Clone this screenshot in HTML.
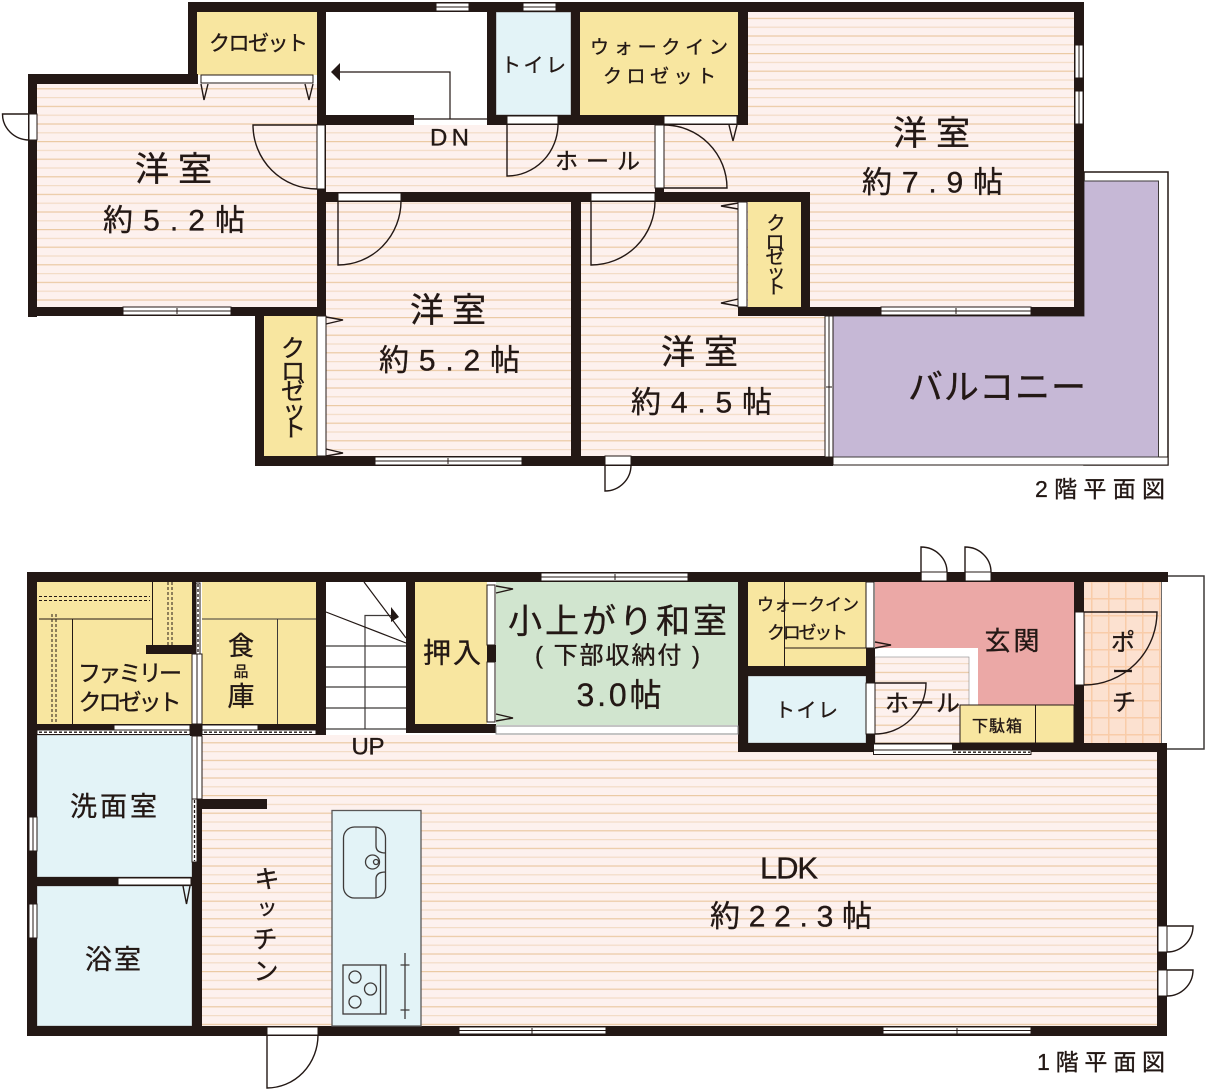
<!DOCTYPE html>
<html lang="ja"><head><meta charset="utf-8"><title>平面図</title>
<style>
html,body{margin:0;padding:0;background:#fff;width:1206px;height:1089px;overflow:hidden}
svg{display:block}
text{font-family:"Liberation Sans","Noto Sans CJK JP",sans-serif;fill:#231815;stroke:#231815;stroke-width:.35;text-anchor:middle;dominant-baseline:central}
</style></head><body>
<svg width="1206" height="1089" viewBox="0 0 1206 1089" xmlns="http://www.w3.org/2000/svg">
<defs>
<pattern id="f2" width="20" height="17.6" patternUnits="userSpaceOnUse" y="0.2">
<rect width="20" height="17.6" fill="#fdf1ee"/><rect y="0" width="20" height="1.2" fill="#ebc9a3"/><rect y="8.8" width="20" height="1.2" fill="#f3dcc6"/>
</pattern>
<pattern id="f1" width="20" height="17.6" patternUnits="userSpaceOnUse" y="3">
<rect width="20" height="17.6" fill="#fdf1ee"/><rect y="0" width="20" height="1.2" fill="#ebc9a3"/><rect y="8.8" width="20" height="1.2" fill="#f3dcc6"/>
</pattern>
<pattern id="tile" width="17" height="17" patternUnits="userSpaceOnUse" x="1091" y="581">
<rect width="17" height="17" fill="#fce1d0"/><rect width="1.5" height="17" fill="#f9cca9"/><rect width="17" height="1.5" fill="#f9cca9"/>
</pattern>
</defs>

<!-- ================ 2F ================ -->
<!-- balcony -->
<rect x="1084" y="172" width="84" height="293" fill="#fff" stroke="#231815" stroke-width="1.5"/>
<rect x="833" y="457" width="335" height="8" fill="#fff" stroke="#231815" stroke-width="1"/>
<path d="M1084 181H1158.5V457H833V316H1084Z" fill="#c6b8d6" stroke="#3e3a39" stroke-width="1"/>

<!-- floors -->
<rect x="37" y="84" width="280" height="223" fill="url(#f2)"/>
<rect x="326" y="125" width="340" height="67" fill="url(#f2)"/>
<rect x="326" y="202" width="246" height="254" fill="url(#f2)"/>
<rect x="581" y="202" width="244" height="254" fill="url(#f2)"/>
<path d="M664 125H748V12H1074V307H810V192H664Z" fill="url(#f2)"/>
<rect x="326" y="12" width="161" height="103" fill="#fff"/>
<!-- small rooms -->
<rect x="197" y="12" width="120" height="63" fill="#f8e6a0"/>
<rect x="496" y="12" width="75" height="103" fill="#e3f3f7" stroke="#898989" stroke-width=".8"/>
<rect x="580" y="12" width="158" height="103" fill="#f8e6a0"/>
<rect x="748" y="202" width="53" height="105" fill="#f8e6a0"/>
<rect x="264" y="316" width="53" height="140" fill="#f8e6a0"/>

<!-- walls 2F -->
<g fill="#231815">
<rect x="188" y="2" width="896" height="10"/>
<rect x="188" y="2" width="9" height="82"/>
<rect x="28" y="74" width="170" height="10"/>
<rect x="28" y="74" width="9" height="243"/>
<rect x="28" y="307" width="298" height="9"/>
<rect x="317" y="12" width="9" height="304"/>
<rect x="326" y="115" width="88" height="10"/>
<rect x="487" y="12" width="9" height="113"/>
<rect x="571" y="12" width="9" height="113"/>
<rect x="496" y="115" width="252" height="10"/>
<rect x="738" y="12" width="10" height="113"/>
<rect x="655" y="125" width="9" height="77"/>
<rect x="326" y="192" width="484" height="10"/>
<rect x="801" y="192" width="9" height="124"/>
<rect x="738" y="307" width="346" height="9"/>
<rect x="1074" y="2" width="10" height="314"/>
<rect x="255" y="316" width="9" height="150"/>
<rect x="317" y="307" width="9" height="159"/>
<rect x="255" y="456" width="578" height="10"/>
<rect x="571" y="192" width="10" height="274"/>
</g>

<!-- openings 2F -->
<g fill="#fff" stroke="#231815" stroke-width="1">
<!-- top windows -->
<rect x="436" y="3" width="33" height="8"/><line x1="436" y1="7" x2="469" y2="7"/>
<rect x="523" y="3" width="33" height="8"/><line x1="523" y1="7" x2="556" y2="7"/>
<!-- right windows -->
<rect x="1075" y="45" width="8" height="33"/><line x1="1079" y1="45" x2="1079" y2="78"/>
<rect x="1075" y="91" width="8" height="33"/><line x1="1079" y1="91" x2="1079" y2="124"/>
<!-- closet door -->
<rect x="201" y="75" width="112" height="8"/>
<!-- left door -->
<rect x="29" y="114" width="8" height="26"/>
<!-- bottom windows -->
<rect x="123" y="307" width="108" height="8"/><line x1="123" y1="311" x2="231" y2="311"/><line x1="177" y1="308" x2="177" y2="314"/>
<rect x="881" y="307" width="150" height="8"/><line x1="881" y1="311" x2="1031" y2="311"/><line x1="956" y1="308" x2="956" y2="314"/>
<rect x="375" y="457" width="147" height="8"/><line x1="375" y1="461" x2="522" y2="461"/><line x1="448" y1="458" x2="448" y2="464"/>
<!-- doors panels -->
<rect x="317" y="125" width="8" height="64"/>
<rect x="338" y="193" width="63" height="8"/>
<rect x="591" y="193" width="64" height="8"/>
<rect x="507" y="116" width="51" height="8"/>
<rect x="664" y="116" width="73" height="8"/>
<rect x="655" y="125" width="9" height="63"/>
<rect x="738" y="202" width="9" height="105"/>
<rect x="317" y="316" width="9" height="140"/>
<rect x="605" y="456" width="26" height="9"/>
<rect x="825" y="316" width="8" height="141"/><line x1="829" y1="316" x2="829" y2="457"/><line x1="826" y1="387" x2="832" y2="387"/>
</g>

<g fill="none" stroke="#231815" stroke-width="1.4">
<path d="M29 114H2.5A27 26 0 0 0 29 140"/>
<path d="M317 125H253A64 64 0 0 0 317 189"/>
<path d="M338 201V265A63 64 0 0 0 401 201"/>
<path d="M591 201V265A64 64 0 0 0 655 201"/>
<path d="M507 124V176A51 52 0 0 0 558 124"/>
<path d="M664 125A63 63 0 0 1 727 188H664"/>
<path d="M605 465V491A26 26 0 0 0 631 465"/>
<!-- triangles -->
<path d="M201 84L204 100L208 84M305 84L309 100L313 84"/>
<path d="M729 125L733 141L737 125"/>
<path d="M738 203L721 206L738 209M738 299L721 303L738 306"/>
<path d="M326 317L343 320L326 324M326 449L343 453L326 456"/>
<!-- stair arrow -->
<path d="M414 119H487M450 119V72H340" stroke-width="1.2"/>
</g>
<path d="M331 72L340 63V81Z" fill="#231815"/>

<!-- labels 2F -->
<g>
<text x="173.500" y="170" font-size="34" textLength="77">洋室</text>
<text x="174" y="221" font-size="30" textLength="142">約5.2帖</text>
<text x="258.500" y="44" font-size="21" textLength="99">クロゼット</text>
<text x="533.500" y="66" font-size="20" textLength="65">トイレ</text>
<text x="659" y="48" font-size="19" textLength="138">ウォークイン</text>
<text x="659.500" y="77" font-size="19" textLength="113">クロゼット</text>
<text x="449.500" y="138" font-size="24" textLength="39">DN</text>
<text x="597.500" y="161" font-size="23" textLength="85">ホール</text>
<text x="931.500" y="134" font-size="34" textLength="77">洋室</text>
<text x="932.500" y="183" font-size="30" textLength="141">約7.9帖</text>
<text x="448" y="311" font-size="34" textLength="76">洋室</text>
<text x="449.500" y="361" font-size="30" textLength="141">約5.2帖</text>
<text x="699.500" y="353" font-size="34" textLength="77">洋室</text>
<text x="701.500" y="403" font-size="30" textLength="141">約4.5帖</text>
<text x="776" y="224" font-size="19">ク</text><text x="775" y="243" font-size="19">ロ</text><text x="775" y="258" font-size="19">ゼ</text><text x="776" y="273" font-size="19">ッ</text><text x="776" y="288" font-size="19">ト</text>
<text x="293" y="349" font-size="24">ク</text><text x="293" y="372" font-size="24">ロ</text><text x="293" y="392" font-size="24">ゼ</text><text x="294" y="411" font-size="24">ッ</text><text x="294" y="429" font-size="24">ト</text>
<text x="997" y="388" font-size="35" textLength="178">バルコニー</text>
<text x="1100" y="489" font-size="23" textLength="130">2階平面図</text>
</g>

<!-- ================ 1F ================ -->
<rect x="1161" y="576" width="43" height="173" fill="#fff" stroke="#3e3a39" stroke-width="1.5"/>
<rect x="1084" y="582" width="77" height="161" fill="url(#tile)"/>
<!-- LDK -->
<path d="M202 735H738V752H1157V1026H202Z" fill="url(#f1)"/>
<rect x="875" y="648" width="103" height="95" fill="#fff"/>
<rect x="875" y="657" width="94" height="86" fill="url(#f1)" stroke="#888" stroke-width=".6"/>
<path d="M875 582H1074V705H978V648H875Z" fill="#eba8a6"/>
<rect x="960" y="705" width="114" height="38" fill="#f8e6a0" stroke="#231815" stroke-width="1"/>
<line x1="1035.500" y1="705" x2="1035.500" y2="743" stroke="#231815" stroke-width="1"/>
<rect x="326" y="582" width="80" height="148" fill="#fff"/>
<g fill="#f8e6a0">
<rect x="37" y="582" width="155" height="142"/>
<rect x="202" y="582" width="114" height="142"/>
<rect x="415" y="582" width="72" height="142"/>
<rect x="748" y="582" width="118" height="84"/>
</g>
<rect x="496" y="582" width="242" height="143" fill="#d1e5cf"/>
<g fill="#e3f3f7" stroke="#898989" stroke-width=".6">
<rect x="748" y="676" width="118" height="67"/>
<rect x="37" y="735" width="155" height="142"/>
<rect x="37" y="886" width="155" height="140"/>
</g>

<!-- stair lines -->
<g fill="none" stroke="#3e3a39" stroke-width="1.2">
<path d="M326 646H406M326 667H406M326 687H406M326 708H406M326 729H406"/>
<path d="M365 729V615.500H392"/>
<path d="M326 612L406 643M364 582L406 638" stroke="#231815"/>
</g>
<path d="M391 607L399 617L391 622Z" fill="#231815"/>

<!-- walls 1F -->
<g fill="#231815">
<rect x="27" y="572" width="1141" height="10"/>
<rect x="27" y="572" width="10" height="464"/>
<rect x="27" y="1026" width="1140" height="10"/>
<rect x="1157" y="743" width="10" height="293"/>
<rect x="192" y="582" width="4" height="72"/>
<rect x="146" y="645" width="50" height="9"/>
<rect x="37" y="724" width="279" height="11"/>
<rect x="316" y="582" width="10" height="153"/>
<rect x="406" y="582" width="9" height="151"/>
<rect x="406" y="724" width="90" height="9"/>
<rect x="487" y="645" width="9" height="17"/>
<rect x="738" y="582" width="10" height="170"/>
<rect x="738" y="743" width="429" height="9"/>
<rect x="748" y="666" width="127" height="10"/>
<rect x="866" y="648" width="9" height="104"/>
<rect x="1074" y="582" width="10" height="170"/>
<rect x="37" y="877" width="155" height="9"/>
<rect x="192" y="799" width="10" height="237"/>
<rect x="197" y="799" width="70" height="10"/>
<rect x="190" y="724" width="12" height="12"/>
</g>

<!-- inner closet lines -->
<g fill="none" stroke="#231815" stroke-width="1">
<path d="M39 619H152M72.500 619V724M152.500 582V645"/>
<path d="M202 619H316M277.500 619V724" stroke="#3e3a39"/>
<path d="M784.500 582V666M784.500 648H866"/>
<g stroke-dasharray="3 2">
<path d="M39 596.500H150M39 600.500H150M52 614V724M56 614V724M168 582V645M172 582V645"/>
</g>
</g>

<!-- openings 1F -->
<g fill="#fff" stroke="#231815" stroke-width="1">
<rect x="541" y="573" width="147" height="8"/><line x1="541" y1="577" x2="688" y2="577"/><line x1="615" y1="574" x2="615" y2="580"/>
<rect x="921" y="572" width="26" height="9"/>
<rect x="965" y="572" width="26" height="9"/>
<!-- top left vertical sliding -->
<rect x="192" y="654" width="10" height="70"/><line x1="197" y1="654" x2="197" y2="724"/>
<rect x="196" y="583" width="4" height="71"/>
<rect x="114" y="725" width="76" height="6"/>
<rect x="202" y="725" width="56" height="6"/>
<rect x="37" y="730" width="153" height="4.500"/>
<rect x="202" y="730" width="114" height="4.500"/>
<rect x="487" y="585" width="8" height="60"/>
<rect x="487" y="662" width="8" height="60"/>
<rect x="496" y="726" width="242" height="8" stroke="#888"/>
<rect x="866" y="582" width="8" height="66"/>
<rect x="866" y="683" width="9" height="51"/>
<rect x="1075" y="612" width="9" height="73"/>
<rect x="873.500" y="744" width="79" height="6"/>
<rect x="873.500" y="750" width="157.500" height="4.500"/>
<rect x="192" y="736" width="10" height="63"/><line x1="197" y1="736" x2="197" y2="799"/>
<rect x="192" y="799" width="5" height="63"/>
<rect x="118" y="878" width="73" height="7"/>
<rect x="29" y="817" width="8" height="34"/><line x1="33" y1="817" x2="33" y2="851"/>
<rect x="29" y="904" width="8" height="34"/><line x1="33" y1="904" x2="33" y2="938"/>
<rect x="267" y="1027" width="51" height="8"/>
<rect x="459" y="1027" width="147" height="7"/><line x1="459" y1="1030.500" x2="606" y2="1030.500"/><line x1="532" y1="1028" x2="532" y2="1034"/>
<rect x="883" y="1027" width="148" height="7"/><line x1="883" y1="1030.500" x2="1031" y2="1030.500"/><line x1="957" y1="1028" x2="957" y2="1034"/>
<rect x="1158" y="926" width="9" height="26"/>
<rect x="1158" y="970" width="9" height="26"/>
</g>
<g fill="none" stroke="#231815" stroke-width="1.300" stroke-dasharray="3 2">
<path d="M39 732.200H188M204 732.200H314M953 752.200H1030M194.500 800V861M198 584V652"/>
</g>

<g fill="none" stroke="#231815" stroke-width="1.400">
<path d="M921 581V547A26 25 0 0 1 947 572"/>
<path d="M965 581V547A26 25 0 0 1 991 572"/>
<path d="M1084 612H1157A73 73 0 0 1 1084 685"/>
<path d="M875 683H926A51 51 0 0 1 875 734"/>
<path d="M267 1035V1088A51 53 0 0 0 318 1035"/>
<path d="M1167 926H1193A26 26 0 0 1 1167 952"/>
<path d="M1167 970H1193A26 26 0 0 1 1167 996"/>
<path d="M183 886L186.500 904L190 886"/>
<path d="M496 586L513 589L496 593M496 714L513 718L496 721"/>
<path d="M875 642L891 645L875 648"/>
</g>

<!-- kitchen -->
<rect x="332" y="810.500" width="89" height="215.500" fill="#e3f3f7" stroke="#595757" stroke-width="1.300"/>
<g fill="none" stroke="#3e3a39" stroke-width="1.300">
<rect x="343.500" y="827" width="42" height="71" rx="11"/>
<path d="M376 827V846Q376 853 386 853M376 898V879Q376 872 386 872"/>
<circle cx="372.500" cy="862" r="7"/><circle cx="376" cy="862" r="2.500"/>
<rect x="343" y="965" width="43" height="49"/><line x1="380.500" y1="965" x2="380.500" y2="1014"/>
<circle cx="355" cy="977" r="6"/><circle cx="370.500" cy="989" r="6"/><circle cx="355" cy="1002" r="6"/>
<path d="M405 953V1019M400.500 965H409.500M400.500 1010H409.500"/>
</g>

<!-- labels 1F -->
<g>
<text x="130" y="673" font-size="23" textLength="104">ファミリー</text>
<text x="130" y="702" font-size="23" textLength="103">クロゼット</text>
<text x="241" y="646" font-size="26">食</text>
<text x="241" y="672" font-size="15">品</text>
<text x="241" y="697" font-size="27">庫</text>
<text x="368" y="747" font-size="24" textLength="33">UP</text>
<text x="452" y="653" font-size="28" textLength="58">押入</text>
<text x="617.500" y="622" font-size="34" textLength="219">小上がり和室</text>
<text x="617.500" y="656" font-size="24" textLength="165">( 下部収納付 )</text>
<text x="619" y="695" font-size="32" textLength="85">3.0帖</text>
<text x="808" y="605" font-size="17" textLength="102">ウォークイン</text>
<text x="807.500" y="633" font-size="18" textLength="81">クロゼット</text>
<text x="1012" y="641" font-size="26" textLength="55">玄関</text>
<text x="1123" y="643" font-size="24">ポ</text>
<text x="1123" y="672" font-size="22">ー</text>
<text x="1124" y="703" font-size="24">チ</text>
<text x="922.500" y="704" font-size="24" textLength="75">ホール</text>
<text x="997" y="727" font-size="16" textLength="50">下駄箱</text>
<text x="806.500" y="711" font-size="20" textLength="63">トイレ</text>
<text x="113.500" y="807" font-size="27" textLength="87">洗面室</text>
<text x="113" y="960" font-size="27" textLength="56">浴室</text>
<text x="267" y="880" font-size="25">キ</text>
<text x="267" y="908" font-size="21">ッ</text>
<text x="265" y="940" font-size="25">チ</text>
<text x="266" y="972" font-size="25">ン</text>
<text x="789" y="868" font-size="31" textLength="58">LDK</text>
<text x="791" y="917" font-size="30" textLength="162">約22.3帖</text>
<text x="1101" y="1062" font-size="23" textLength="128">1階平面図</text>
</g>
</svg>
</body></html>
